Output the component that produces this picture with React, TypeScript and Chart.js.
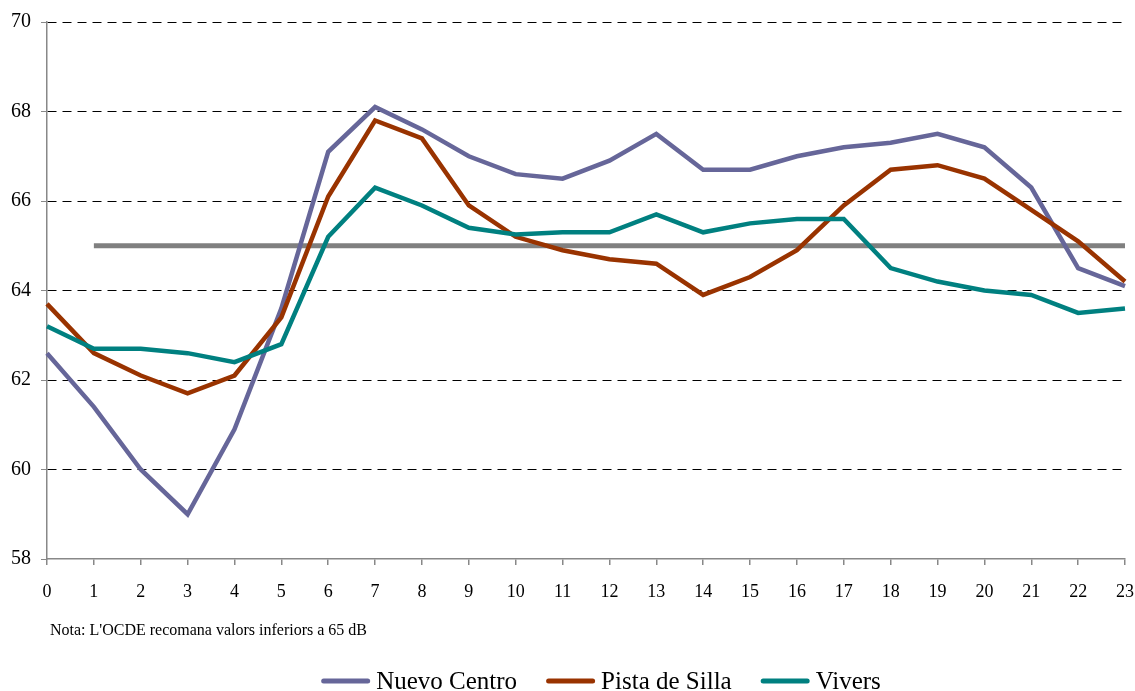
import React, { useEffect, useRef } from 'react';
import { Chart, registerables } from 'chart.js';

Chart.register(...registerables);

// ---- data ----
const hours: string[] = [
  '0', '1', '2', '3', '4', '5', '6', '7', '8', '9', '10', '11',
  '12', '13', '14', '15', '16', '17', '18', '19', '20', '21', '22', '23',
];

const seriesNames: string[] = ['Nuevo Centro', 'Pista de Silla', 'Vivers'];

const nuevoCentro: number[] = [
  62.6, 61.4, 60.0, 59.0, 60.9, 63.6, 67.1, 68.1, 67.6, 67.0, 66.6, 66.5,
  66.9, 67.5, 66.7, 66.7, 67.0, 67.2, 67.3, 67.5, 67.2, 66.3, 64.5, 64.1,
];

const pistaDeSilla: number[] = [
  63.7, 62.6, 62.1, 61.7, 62.1, 63.4, 66.1, 67.8, 67.4, 65.9, 65.2, 64.9,
  64.7, 64.6, 63.9, 64.3, 64.9, 65.9, 66.7, 66.8, 66.5, 65.8, 65.1, 64.2,
];

const vivers: number[] = [
  63.2, 62.7, 62.7, 62.6, 62.4, 62.8, 65.2, 66.3, 65.9, 65.4, 65.25, 65.3,
  65.3, 65.7, 65.3, 65.5, 65.6, 65.6, 64.5, 64.2, 64.0, 63.9, 63.5, 63.6,
];

const seriesColors: string[] = ['#666699', '#993300', '#008080'];

const limitValue = 65;
const limitStartHour = 1;
const limitColor = '#808080';

const noteText = "Nota: L'OCDE recomana valors inferiors a 65 dB";

const yMin = 58;
const yMax = 70;
const yStep = 2;

// ---- layout ----
const W = 1135;
const H = 691;
const SERIF = '"Liberation Serif", "Times New Roman", Times, serif';

export default function App() {
  const ref = useRef<HTMLCanvasElement>(null);

  useEffect(() => {
    const canvas = ref.current;
    if (!canvas) return;

    const seriesValues = [nuevoCentro, pistaDeSilla, vivers];
    const limitData = hours.map((_, i) => (i >= limitStartHour ? limitValue : null));

    const extrasPlugin = {
      id: 'extras',
      afterDraw(chart: any) {
        const ctx = chart.ctx as CanvasRenderingContext2D;
        const area = chart.chartArea;
        ctx.save();
        ctx.fillStyle = '#000';
        ctx.textBaseline = 'middle';
        ctx.textAlign = 'left';
        ctx.font = `16px ${SERIF}`;
        ctx.fillText(noteText, area.left + 3, 631);

        ctx.font = `25px ${SERIF}`;
        const lineW = 49;
        const gap = 6;
        const itemGap = 29;
        const widths = seriesNames.map((n) => ctx.measureText(n).width);
        const total =
          widths.reduce((s, w) => s + lineW + gap + w, 0) + itemGap * (seriesNames.length - 1);
        let x = 601 - total / 2;
        const y = 681;
        seriesNames.forEach((name, i) => {
          ctx.strokeStyle = seriesColors[i];
          ctx.lineWidth = 5;
          ctx.lineCap = 'round';
          ctx.beginPath();
          ctx.moveTo(x + 2.5, y);
          ctx.lineTo(x + lineW - 2.5, y);
          ctx.stroke();
          x += lineW + gap;
          ctx.fillText(name, x, y + 1);
          x += widths[i] + itemGap;
        });
        ctx.restore();
      },
    };

    const datasets: any[] = seriesNames.map((name, i) => ({
      label: name,
      data: seriesValues[i],
      borderColor: seriesColors[i],
      backgroundColor: seriesColors[i],
      borderWidth: 4.5,
      pointRadius: 0,
      pointHoverRadius: 0,
      tension: 0,
      fill: false,
      order: seriesNames.length - i,
    }));
    datasets.push({
      label: 'Límit',
      data: limitData,
      borderColor: limitColor,
      backgroundColor: limitColor,
      borderWidth: 5,
      pointRadius: 0,
      pointHoverRadius: 0,
      tension: 0,
      fill: false,
      order: 10,
    });

    const chart = new Chart(canvas, {
      type: 'line',
      data: { labels: hours, datasets },
      options: {
        animation: false,
        responsive: false,
        devicePixelRatio: 1,
        layout: { padding: { top: 22, left: 0, right: 0, bottom: 82 } },
        plugins: {
          legend: { display: false },
          tooltip: { enabled: false },
        },
        scales: {
          x: {
            type: 'category',
            offset: false,
            grid: {
              drawOnChartArea: false,
              drawTicks: true,
              tickLength: 6,
              color: '#888',
              tickColor: '#888',
              lineWidth: 1.5,
            },
            border: { color: '#888', width: 1.5 },
            ticks: {
              color: '#000',
              font: { family: SERIF, size: 18 },
              padding: 16,
              maxRotation: 0,
              autoSkip: false,
            },
            afterFit(scale: any) {
              scale.height = 50;
              scale.paddingRight = 10;
              scale.paddingLeft = 0;
            },
          },
          y: {
            min: yMin,
            max: yMax,
            grid: {
              color: (c: any) => (c.tick && c.tick.value === yMin ? 'rgba(0,0,0,0)' : '#000'),
              tickColor: '#888',
              tickLength: 6,
              lineWidth: 1,
              tickBorderDash: [],
            },
            border: { color: '#888', width: 1.5, dash: [9, 6] },
            ticks: {
              stepSize: yStep,
              color: '#000',
              font: { family: SERIF, size: 20 },
              padding: 10,
            },
            afterFit(scale: any) {
              scale.width = 47;
            },
          },
        },
      },
      plugins: [extrasPlugin],
    });

    return () => {
      chart.destroy();
    };
  }, []);

  return (
    <div style={{ position: 'fixed', left: 0, top: 0, width: W, height: H, background: '#fff' }}>
      <canvas ref={ref} width={W} height={H} style={{ display: 'block', width: W, height: H }} />
    </div>
  );
}
